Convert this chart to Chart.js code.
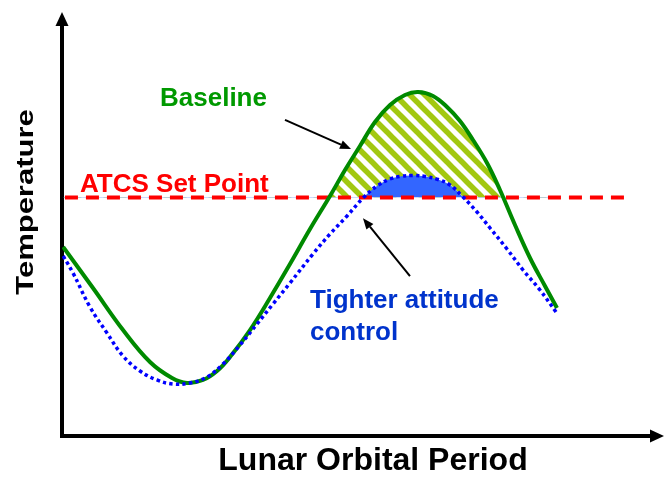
<!DOCTYPE html>
<html><head><meta charset="utf-8">
<script src="https://cdn.jsdelivr.net/npm/chart.js@4"></script>
<style>html,body{margin:0;padding:0;background:#fff;overflow:hidden}#wrap{width:665px;height:477px;position:relative}</style>
</head><body><div id="wrap"><canvas id="c"></canvas></div>
<script>
// ---- Data (x: fraction of lunar orbital period, 0-100; y: relative temperature, 0-100) ----
const baselineX = [0.2, 5.26, 10.36, 14.94, 18.68, 21.22, 23.94, 26.32, 28.52, 31.92, 35.31, 38.71, 42.11, 45.5, 48.05, 50.59, 53.14, 55.69, 58.23, 60.44, 62.99, 65.37, 67.57, 69.78, 72.16, 74.36, 76.91, 79.46, 82.0, 84.04];
const baselineY = [45.99, 36.01, 25.79, 18.0, 14.11, 12.9, 13.63, 15.82, 19.22, 25.79, 33.58, 41.85, 50.36, 58.39, 64.72, 70.56, 76.4, 80.54, 82.97, 83.7, 82.73, 80.05, 76.64, 72.02, 66.42, 59.85, 51.34, 43.31, 36.5, 31.14];
const tighterX = [0.2, 1.87, 4.75, 7.64, 10.36, 13.24, 16.13, 18.85, 21.73, 24.62, 27.33, 30.22, 33.11, 35.82, 38.71, 42.61, 45.5, 48.39, 51.1, 53.48, 55.69, 57.39, 59.59, 61.63, 63.84, 65.87, 68.08, 70.46, 72.67, 75.55, 78.27, 81.15, 83.87];
const tighterY = [43.8, 39.66, 31.39, 25.06, 19.46, 15.82, 13.63, 12.65, 12.9, 14.36, 17.52, 22.14, 27.25, 32.12, 37.23, 44.28, 49.15, 53.53, 57.91, 60.83, 62.53, 63.14, 63.38, 63.14, 62.41, 61.07, 58.15, 54.5, 50.61, 45.5, 40.39, 35.52, 30.17];
const setPointX = [0.5, 95.9];
const setPointValue = 58;
const seriesNames = ['Tighter attitude control', 'Baseline', 'ATCS Set Point'];
const xAxisTitle = 'Lunar Orbital Period';
const yAxisTitle = 'Temperature';
const noteBaseline = 'Baseline';
const noteSetPoint = 'ATCS Set Point';
const noteTighter = ['Tighter attitude', 'control'];
// arrow annotations in data coordinates [fromX, fromY, toX, toY]
const arrowBaseline = [37.86, 76.9, 49.07, 69.8];
const arrowTighter = [59.08, 38.9, 51.1, 53.0];

const FONT = 'Arial, "Liberation Sans", sans-serif';

// diagonal hatch pattern
function makeHatch() {
  const s = 15;
  const cv = document.createElement('canvas');
  cv.width = s; cv.height = s;
  const g = cv.getContext('2d');
  g.fillStyle = '#ffffff';
  g.fillRect(0, 0, s, s);
  g.strokeStyle = '#a2c811';
  g.lineWidth = 5.5;
  for (let k = -1; k <= 1; k++) {
    g.beginPath();
    g.moveTo(k * s - 2, -2);
    g.lineTo(k * s + s + 2, s + 2);
    g.stroke();
  }
  return document.createElement('canvas').getContext('2d').createPattern(cv, 'repeat');
}
const hatch = makeHatch();

const toPts = (xs, ys) => xs.map((x, i) => ({x: x, y: ys[i]}));

function arrow(ctx, x1, y1, x2, y2, head, w) {
  const a = Math.atan2(y2 - y1, x2 - x1);
  const bx = x2 - head * Math.cos(a), by = y2 - head * Math.sin(a);
  ctx.beginPath();
  ctx.moveTo(x1, y1);
  ctx.lineTo(bx, by);
  ctx.stroke();
  ctx.beginPath();
  ctx.moveTo(x2, y2);
  ctx.lineTo(bx + w * Math.sin(a), by - w * Math.cos(a));
  ctx.lineTo(bx - w * Math.sin(a), by + w * Math.cos(a));
  ctx.closePath();
  ctx.fill();
}

const annot = {
  id: 'annot',
  afterDatasetsDraw(chart) {
    const ctx = chart.ctx, xs = chart.scales.x, ys = chart.scales.y;
    const ca = chart.chartArea;
    ctx.save();
    // axis arrowheads
    ctx.fillStyle = '#000';
    ctx.beginPath();
    ctx.moveTo(ca.left, ca.top - 13);
    ctx.lineTo(ca.left - 6.5, ca.top + 1);
    ctx.lineTo(ca.left + 6.5, ca.top + 1);
    ctx.closePath(); ctx.fill();
    ctx.beginPath();
    ctx.moveTo(ca.right + 13, ca.bottom);
    ctx.lineTo(ca.right - 1, ca.bottom - 6.5);
    ctx.lineTo(ca.right - 1, ca.bottom + 6.5);
    ctx.closePath(); ctx.fill();

    // pointer arrows
    ctx.strokeStyle = '#000';
    ctx.lineWidth = 2;
    const P = (a) => [xs.getPixelForValue(a[0]), ys.getPixelForValue(a[1]), xs.getPixelForValue(a[2]), ys.getPixelForValue(a[3])];
    let p = P(arrowBaseline);
    arrow(ctx, p[0], p[1], p[2], p[3], 11, 4.5);
    p = P(arrowTighter);
    arrow(ctx, p[0], p[1], p[2], p[3], 11, 4.5);

    // notes
    ctx.textAlign = 'left';
    ctx.textBaseline = 'alphabetic';
    ctx.font = 'bold 26px ' + FONT;
    ctx.fillStyle = '#009900';
    ctx.fillText(noteBaseline, 160, 106);
    ctx.fillStyle = '#ff0000';
    ctx.fillText(noteSetPoint, 80, 192);
    ctx.fillStyle = '#0033cc';
    ctx.fillText(noteTighter[0], 310, 308);
    ctx.fillText(noteTighter[1], 310, 340);

    // axis titles
    ctx.fillStyle = '#000';
    ctx.font = 'bold 32px ' + FONT;
    ctx.textAlign = 'center';
    ctx.fillText(xAxisTitle, 373, 470);
    ctx.save();
    ctx.translate(33, 202);
    ctx.rotate(-Math.PI / 2);
    ctx.scale(1, 0.8);
    ctx.font = 'bold 31px ' + FONT;
    ctx.fillText(yAxisTitle, 0, 0);
    ctx.restore();
    ctx.restore();
  }
};

new Chart(document.getElementById('c'), {
  type: 'line',
  data: {
    datasets: [
      {
        label: seriesNames[0],
        data: toPts(tighterX, tighterY),
        borderColor: '#0000ff',
        borderWidth: 3.5,
        borderDash: [3.4, 3.2],
        borderCapStyle: 'butt',
        pointRadius: 0,
        tension: 0.4,
        fill: {target: {value: setPointValue}, above: '#3366ff', below: 'rgba(0,0,0,0)'}
      },
      {
        label: seriesNames[1],
        data: toPts(baselineX, baselineY),
        borderColor: '#008a00',
        borderWidth: 4,
        pointRadius: 0,
        tension: 0.4,
        fill: {target: {value: setPointValue}, above: hatch, below: 'rgba(0,0,0,0)'}
      },
      {
        label: seriesNames[2],
        data: setPointX.map(x => ({x: x, y: setPointValue})),
        borderColor: '#ff0000',
        borderWidth: 4,
        borderDash: [13, 8],
        borderCapStyle: 'butt',
        pointRadius: 0,
        fill: false
      }
    ]
  },
  options: {
    responsive: true,
    maintainAspectRatio: false,
    animation: false,
    layout: {padding: {left: 62, top: 25, right: 14, bottom: 41}},
    plugins: {
      legend: {display: false},
      tooltip: {enabled: false},
      filler: {drawTime: 'beforeDatasetsDraw'}
    },
    scales: {
      x: {
        type: 'linear', min: 0, max: 100,
        ticks: {display: false},
        grid: {display: false, drawTicks: false},
        border: {display: true, color: '#000', width: 4}
      },
      y: {
        type: 'linear', min: 0, max: 100,
        ticks: {display: false},
        grid: {display: false, drawTicks: false},
        border: {display: true, color: '#000', width: 4}
      }
    }
  },
  plugins: [annot]
});
</script>
</body></html>
